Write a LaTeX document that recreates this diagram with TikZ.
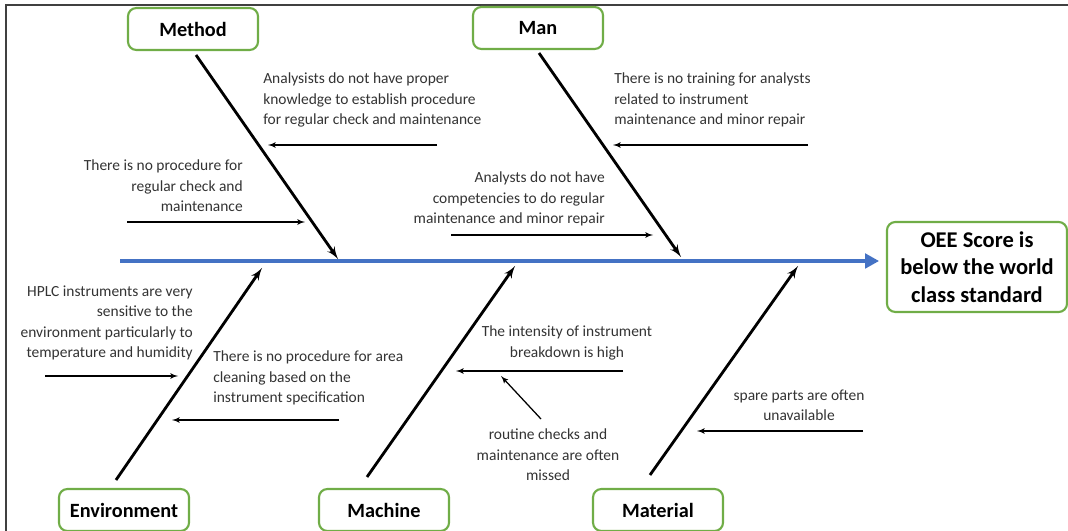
\documentclass[tikz,border=0pt]{standalone}
\usepackage{fontspec}
\setmainfont{Carlito}
\usetikzlibrary{arrows,arrows.meta,positioning}
\definecolor{boxgreen}{HTML}{70AD47}
\definecolor{spineblue}{HTML}{4472C4}

\begin{document}
\begin{tikzpicture}[
    x=0.025cm, y=-0.025cm,
    >=latex',
    font=\fontsize{11}{14.5}\selectfont,
    category/.style={
		rectangle,
		rounded corners=6pt,
		draw=boxgreen,
		line width=1.5pt,
		text centered,
		minimum width=3.25cm,
		minimum height=1.05cm,
		fill=white,
		font=\fontsize{14.4}{17}\selectfont\bfseries
	},
	effect/.style={
		category,
		align=center,
		minimum width=4.5cm,
		minimum height=2.25cm,
		font=\fontsize{16}{19.5}\selectfont\bfseries
	},
	cause/.style={
		inner sep=0pt,
		text=black!80
	},
	spine/.style={-{Triangle[length=3.5mm,width=3.6mm]}, line width=2.8pt, draw=spineblue},
	bone/.style={->, line width=2pt},
	twig/.style={->, line width=0.9pt}
  ]
    \useasboundingbox (0,0) rectangle (1068,531);
    \draw [line width=0.8pt, black!75] (6,531) -- (6,5) -- (1068,5);

    % the categories and the effect
  \node [category] (method) at (193,29) {Method};
  \node [category] (man) at (538,28) {Man};
  \node [category] (environment) at (124,510) {Environment};
  \node [category] (machine) at (384,510) {Machine};
  \node [category] (material) at (658,510) {Material};
  \node [effect] (oee) at (977,267) {OEE Score is\\below the world\\class standard};

    % spine and bones
  \coordinate (tail) at (120,261);
  \draw [spine, shorten >=0.17cm] (tail) -- (oee.west |- tail);

  \coordinate (method-top) at (196,55);
  \coordinate (method-end) at (338,259);
  \coordinate (man-top) at (539,53);
  \coordinate (man-end) at (681,257);
  \coordinate (environment-top) at (116,480);
  \coordinate (environment-end) at (262,268);
  \coordinate (machine-top) at (367,477);
  \coordinate (machine-end) at (515,266);
  \coordinate (material-top) at (650,475);
  \coordinate (material-end) at (798,266);

  \draw [bone] (method-top) -- (method-end);
  \draw [bone] (man-top) -- (man-end);
  \draw [bone] (environment-top) -- (environment-end);
  \draw [bone] (machine-top) -- (machine-end);
  \draw [bone] (material-top) -- (material-end);

    % causes of method
  \node [cause, anchor=west, align=left] (method1) at (263,100)
  {Analysists do not have proper\\knowledge to establish procedure\\for regular check and maintenance};
  \node [cause, anchor=east, align=right] (method2) at (243,186)
  {There is no procedure for\\regular check and\\maintenance};
  \coordinate (method1-from) at (437,145);
  \coordinate (method1-to) at (268,145);
  \coordinate (method2-from) at (127,222);
  \coordinate (method2-to) at (305,222);
  \draw [twig] (method1-from) -- (method1-to);
  \draw [twig] (method2-from) -- (method2-to);

    % causes of man
  \node [cause, anchor=west, align=left] (man1) at (614,100)
  {There is no training for analysts\\related to instrument\\maintenance and minor repair};
  \node [cause, anchor=east, align=right] (man2) at (605,199)
  {Analysts do not have\\competencies to do regular\\maintenance and minor repair};
  \coordinate (man1-from) at (808,145);
  \coordinate (man1-to) at (613,145);
  \coordinate (man2-from) at (451,235);
  \coordinate (man2-to) at (653,235);
  \draw [twig] (man1-from) -- (man1-to);
  \draw [twig] (man2-from) -- (man2-to);

    % causes of environment
  \node [cause, anchor=east, align=right] (environment1) at (193,323)
  {HPLC instruments are very\\sensitive to the\\environment particularly to\\temperature and humidity};
  \node [cause, anchor=west, align=left] (environment2) at (213,378)
  {There is no procedure for area\\cleaning based on the\\instrument specification};
  \coordinate (environment1-from) at (45,376);
  \coordinate (environment1-to) at (178,376);
  \coordinate (environment2-from) at (339,420);
  \coordinate (environment2-to) at (172,420);
  \draw [twig] (environment1-from) -- (environment1-to);
  \draw [twig] (environment2-from) -- (environment2-to);

    % causes of machine
  \node [cause, align=center] (machine1) at (567,343)
  {The intensity of instrument\\breakdown is high};
  \node [cause, align=center] (machine2) at (548,455)
  {routine checks and\\maintenance are often\\missed};
  \coordinate (machine1-from) at (623,371);
  \coordinate (machine1-to) at (456,371);
  \coordinate (machine2-from) at (541,419);
  \coordinate (machine2-to) at (501,376);
  \draw [twig] (machine1-from) -- (machine1-to);
  \draw [twig] (machine2-from) -- (machine2-to);

    % causes of material
  \node [cause, align=center] (material1) at (799,405)
  {spare parts are often\\unavailable};
  \coordinate (material1-from) at (863,431);
  \coordinate (material1-to) at (697,431);
  \draw [twig] (material1-from) -- (material1-to);

\end{tikzpicture}
\end{document}
